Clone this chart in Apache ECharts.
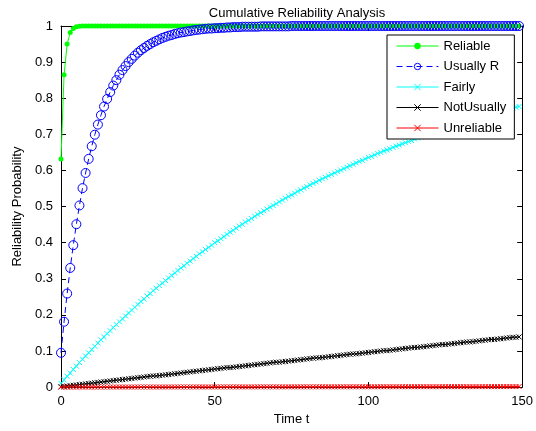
<!DOCTYPE html>
<html>
<head>
<meta charset="utf-8">
<script src="https://cdn.jsdelivr.net/npm/echarts@6/dist/echarts.min.js"></script>
<style>html,body{margin:0;padding:0;background:#fff}#c{width:536px;height:431px}</style>
</head>
<body>
<div id="c"></div>
<script>
var seriesNames = ['Reliable', 'Usually R', 'Fairly', 'NotUsually', 'Unreliable'];
var xTicks = [0, 50, 100, 150];

var reliable = [0.632,0.865,0.950,0.982,0.993,0.998,0.999,1,1,1,
1,1,1,1,1,1,1,1,1,1, 1,1,1,1,1,1,1,1,1,1, 1,1,1,1,1,1,1,1,1,1, 1,1,1,1,1,1,1,1,1,1,
1,1,1,1,1,1,1,1,1,1, 1,1,1,1,1,1,1,1,1,1, 1,1,1,1,1,1,1,1,1,1, 1,1,1,1,1,1,1,1,1,1,
1,1,1,1,1,1,1,1,1,1, 1,1,1,1,1,1,1,1,1,1, 1,1,1,1,1,1,1,1,1,1, 1,1,1,1,1,1,1,1,1,1,
1,1,1,1,1,1,1,1,1,1, 1,1,1,1,1,1,1,1,1,1];

var usuallyR = [0.095,0.181,0.259,0.330,0.393,0.451,0.503,0.551,0.593,0.632,
0.667,0.699,0.727,0.753,0.777,0.798,0.817,0.835,0.850,0.865,
0.878,0.889,0.900,0.909,0.918,0.926,0.933,0.939,0.945,0.950,
0.955,0.959,0.963,0.967,0.970,0.973,0.975,0.978,0.980,0.982,
0.983,0.985,0.986,0.988,0.989,0.990,0.991,0.992,0.993,0.993,
0.994,0.994,0.995,0.995,0.996,0.996,0.997,0.997,0.997,0.998,
0.998,0.998,0.998,0.998,0.998,0.999,0.999,0.999,0.999,0.999,
0.999,0.999,0.999,0.999,0.999,1,1,1,1,1,
1,1,1,1,1,1,1,1,1,1, 1,1,1,1,1,1,1,1,1,1, 1,1,1,1,1,1,1,1,1,1,
1,1,1,1,1,1,1,1,1,1, 1,1,1,1,1,1,1,1,1,1, 1,1,1,1,1,1,1,1,1,1,
1,1,1,1,1,1,1,1,1,1];

var fairly = [0.010,0.020,0.030,0.039,0.049,0.058,0.068,0.077,0.086,0.095,
0.104,0.113,0.122,0.131,0.139,0.148,0.156,0.165,0.173,0.181,
0.189,0.197,0.205,0.213,0.221,0.229,0.237,0.244,0.252,0.259,
0.267,0.274,0.281,0.288,0.295,0.302,0.309,0.316,0.323,0.330,
0.336,0.343,0.349,0.356,0.362,0.369,0.375,0.381,0.387,0.393,
0.400,0.405,0.411,0.417,0.423,0.429,0.434,0.440,0.446,0.451,
0.457,0.462,0.467,0.473,0.478,0.483,0.488,0.493,0.498,0.503,
0.508,0.513,0.518,0.523,0.528,0.532,0.537,0.542,0.546,0.551,
0.555,0.560,0.564,0.568,0.573,0.577,0.581,0.585,0.589,0.593,
0.597,0.601,0.605,0.609,0.613,0.617,0.621,0.625,0.628,0.632,
0.636,0.639,0.643,0.647,0.650,0.654,0.657,0.660,0.664,0.667,
0.670,0.674,0.677,0.680,0.683,0.687,0.690,0.693,0.696,0.699,
0.702,0.705,0.708,0.711,0.713,0.716,0.719,0.722,0.725,0.727,
0.730,0.733,0.736,0.738,0.741,0.743,0.746,0.748,0.751,0.753,
0.756,0.758,0.761,0.763,0.765,0.768,0.770,0.772,0.775,0.777];

var notUsually = [0.001,0.002,0.003,0.004,0.005,0.006,0.007,0.008,0.009,0.010,
0.011,0.012,0.013,0.014,0.015,0.016,0.017,0.018,0.019,0.020,
0.021,0.022,0.023,0.024,0.025,0.026,0.027,0.028,0.029,0.030,0.031,
0.031,0.032,0.033,0.034,0.035,0.036,0.037,0.038,0.039,0.040,0.041,0.042,
0.043,0.044,0.045,0.046,0.047,0.048,0.049,0.050,0.051,0.052,0.053,0.054,
0.054,0.055,0.056,0.057,0.058,0.059,0.060,0.061,0.062,0.063,0.064,0.065,0.066,0.067,0.068,0.069,
0.069,0.070,0.071,0.072,0.073,0.074,0.075,0.076,0.077,0.078,0.079,0.080,0.081,
0.081,0.082,0.083,0.084,0.085,0.086,0.087,0.088,0.089,0.090,0.091,0.092,
0.092,0.093,0.094,0.095,0.096,0.097,0.098,0.099,0.100,0.101,
0.101,0.102,0.103,0.104,0.105,0.106,0.107,0.108,0.109,0.110,
0.110,0.111,0.112,0.113,0.114,0.115,0.116,0.117,0.118,
0.118,0.119,0.120,0.121,0.122,0.123,0.124,0.125,
0.125,0.126,0.127,0.128,0.129,0.130,0.131,0.132,
0.132,0.133,0.134,0.135,0.136,0.137,0.138,
0.138,0.139];

var unreliable = [0,0,0,0,
0.0001,0.0001,0.0001,0.0001,0.0001,0.0001,0.0001,0.0001,0.0001,0.0001,
0.0002,0.0002,0.0002,0.0002,0.0002,0.0002,0.0002,0.0002,0.0002,0.0002,
0.0003,0.0003,0.0003,0.0003,0.0003,0.0003,0.0003,0.0003,0.0003,0.0003,
0.0004,0.0004,0.0004,0.0004,0.0004,0.0004,0.0004,0.0004,0.0004,0.0004,
0.0005,0.0005,0.0005,0.0005,0.0005,0.0005,0.0005,0.0005,0.0005,0.0005,
0.0006,0.0006,0.0006,0.0006,0.0006,0.0006,0.0006,0.0006,0.0006,0.0006,
0.0007,0.0007,0.0007,0.0007,0.0007,0.0007,0.0007,0.0007,0.0007,0.0007,
0.0008,0.0008,0.0008,0.0008,0.0008,0.0008,0.0008,0.0008,0.0008,0.0008,
0.0009,0.0009,0.0009,0.0009,0.0009,0.0009,0.0009,0.0009,0.0009,0.0009,
0.0010,0.0010,0.0010,0.0010,0.0010,0.0010,0.0010,0.0010,0.0010,0.0010,
0.0011,0.0011,0.0011,0.0011,0.0011,0.0011,0.0011,0.0011,0.0011,0.0011,
0.0012,0.0012,0.0012,0.0012,0.0012,0.0012,0.0012,0.0012,0.0012,0.0012,
0.0013,0.0013,0.0013,0.0013,0.0013,0.0013,0.0013,0.0013,0.0013,0.0013,
0.0014,0.0014,0.0014,0.0014,0.0014,0.0014,0.0014,0.0014,0.0014,0.0014,
0.0015,0.0015,0.0015,0.0015,0.0015,0.0015];

function pairs(arr) { return arr.map(function (v, i) { return [i, v]; }); }

var FONT = 'Liberation Sans, Arial, sans-serif';
var FS = 13;
var xPath = 'path://M0,0L10,10M10,0L0,10';

function axisCommon(show) {
  return {
    axisLine: { show: true, onZero: false, lineStyle: { color: '#000', width: 1 } },
    axisTick: { show: true, inside: true, length: 5, lineStyle: { color: '#000' } },
    axisLabel: { show: show, color: '#000', fontSize: FS, fontFamily: FONT },
    splitLine: { show: false }
  };
}

var chart = echarts.init(document.getElementById('c'), null, { renderer: 'canvas' });
chart.setOption({
  animation: false,
  backgroundColor: '#fff',
  title: {
    text: 'Cumulative Reliability Analysis',
    left: 292, textAlign: 'center', top: 2,
    textStyle: { fontSize: FS, fontWeight: 'normal', color: '#000', fontFamily: FONT }
  },
  grid: { left: 61, right: 13, top: 26, bottom: 40, containLabel: false },
  legend: {
    orient: 'vertical', left: 387, top: 35,
    padding: [4.5, 8, 4.5, 9], itemGap: 7.5, itemWidth: 42, itemHeight: 8,
    backgroundColor: '#fff', borderColor: '#000', borderWidth: 1,
    lineStyle: { width: 1 },
    itemStyle: { borderWidth: 1 },
    textStyle: { fontSize: FS, color: '#000', fontFamily: FONT },
    data: seriesNames
  },
  xAxis: [
    Object.assign({ type: 'value', min: 0, max: 150, interval: 50, position: 'bottom',
      name: 'Time t', nameLocation: 'middle', nameGap: 22,
      nameTextStyle: { fontSize: FS, color: '#000', fontFamily: FONT } }, axisCommon(true)),
    Object.assign({ type: 'value', min: 0, max: 150, interval: 50, position: 'top' }, axisCommon(false))
  ],
  yAxis: [
    Object.assign({ type: 'value', min: 0, max: 1, interval: 0.1, position: 'left',
      name: 'Reliability Probability', nameLocation: 'middle', nameGap: 36,
      nameTextStyle: { fontSize: FS, color: '#000', fontFamily: FONT } }, axisCommon(true)),
    Object.assign({ type: 'value', min: 0, max: 1, interval: 0.1, position: 'right' }, axisCommon(false))
  ],
  series: [
    { name: seriesNames[0], type: 'line', data: pairs(reliable), symbol: 'circle', symbolSize: 5,
      lineStyle: { color: '#00ff00', width: 1 }, itemStyle: { color: '#00ff00' } },
    { name: seriesNames[1], type: 'line', data: pairs(usuallyR), symbol: 'circle', symbolSize: 9,
      lineStyle: { color: '#0000ff', width: 1, type: [6, 4] },
      itemStyle: { color: 'rgba(255,255,255,0)', borderColor: '#0000ff', borderWidth: 1 } },
    { name: seriesNames[2], type: 'line', data: pairs(fairly), symbol: xPath, symbolSize: 5,
      lineStyle: { color: '#00ffff', width: 1 },
      itemStyle: { color: '#00ffff', borderColor: '#00ffff', borderWidth: 1 } },
    { name: seriesNames[3], type: 'line', data: pairs(notUsually), symbol: xPath, symbolSize: 5,
      lineStyle: { color: '#000000', width: 1 },
      itemStyle: { color: '#000000', borderColor: '#000000', borderWidth: 1 } },
    { name: seriesNames[4], type: 'line', data: pairs(unreliable), symbol: xPath, symbolSize: 5,
      lineStyle: { color: '#ff0000', width: 1 },
      itemStyle: { color: '#ff0000', borderColor: '#ff0000', borderWidth: 1 } }
  ]
});
</script>
</body>
</html>
